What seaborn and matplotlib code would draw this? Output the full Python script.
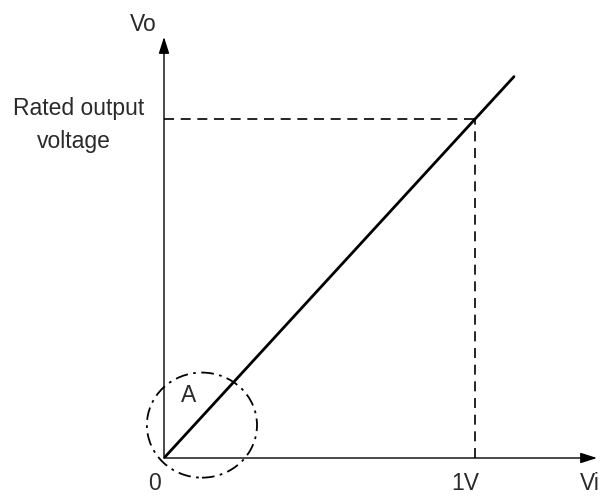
"""Input/output characteristic sketch: Vo against Vi with the rated point and zone A."""

import matplotlib.pyplot as plt
import pandas as pd
import seaborn as sns
from matplotlib.patches import Ellipse

# characteristic line (volts in, fraction of rated output)
vi = [0.0, 1.125]
vo = [0.0, 1.125]
rated_vi = 1.0
rated_vo = 1.0
x_ticks = [0.0, 1.0]
x_tick_labels = ["0", "1V"]

X_MAX = 1.392
Y_MAX = 1.242
TEXT_COLOR = "#2a2a2a"
FONT_SIZE = 16.5


def main():
    sns.set_style("white")
    plt.rcParams["font.family"] = ["Liberation Sans", "DejaVu Sans"]

    fig = plt.figure(figsize=(6.0, 4.99), dpi=100)
    ax = fig.add_axes([164 / 600, 41 / 499, 433 / 600, 421 / 499])
    ax.set_xlim(0, X_MAX)
    ax.set_ylim(0, Y_MAX)
    ax.axis("off")

    df = pd.DataFrame({"Vi": vi, "Vo": vo})
    sns.lineplot(data=df, x="Vi", y="Vo", ax=ax, color="black", linewidth=2.0)

    # dashed guides to the rated point
    ax.plot([0, rated_vi], [rated_vo, rated_vo], color="black", lw=1.2,
            linestyle=(0, (6, 4)), clip_on=False)
    ax.plot([rated_vi, rated_vi], [0, rated_vo], color="black", lw=1.2,
            linestyle=(0, (6, 4)), clip_on=False)

    # axes with arrow heads
    arrow = dict(arrowstyle="-|>,head_length=1.0,head_width=0.32", lw=1.0,
                 color="black", shrinkA=0, shrinkB=0)
    ax.annotate("", xy=(X_MAX, 0), xytext=(0, 0), arrowprops=arrow,
                annotation_clip=False)
    ax.annotate("", xy=(0, Y_MAX), xytext=(0, 0), arrowprops=arrow,
                annotation_clip=False)

    # zone A
    ax.add_patch(Ellipse((0.122, 0.097), 0.354, 0.31, fill=False,
                         edgecolor="black", lw=1.3,
                         linestyle=(0, (7, 3, 1.5, 3)), clip_on=False))
    ax.text(0.08, 0.183, "A", fontsize=FONT_SIZE, color=TEXT_COLOR,
            ha="center", va="center")

    # labels
    for xt, lab in zip(x_ticks, x_tick_labels):
        ax.text(xt - 0.03, -0.075, lab, fontsize=FONT_SIZE, color=TEXT_COLOR,
                ha="center", va="center", clip_on=False)
    ax.text(1.37, -0.075, "Vi", fontsize=FONT_SIZE, color=TEXT_COLOR,
            ha="center", va="center", clip_on=False)
    ax.text(-0.068, 1.28, "Vo", fontsize=FONT_SIZE, color=TEXT_COLOR,
            ha="center", va="center", clip_on=False)
    ax.text(-0.274, 1.032, "Rated output", fontsize=FONT_SIZE, color=TEXT_COLOR,
            ha="center", va="center", clip_on=False)
    ax.text(-0.29, 0.935, "voltage", fontsize=FONT_SIZE, color=TEXT_COLOR,
            ha="center", va="center", clip_on=False)

    fig.savefig("out.png", dpi=100, facecolor="white")
    plt.close(fig)


if __name__ == "__main__":
    main()
